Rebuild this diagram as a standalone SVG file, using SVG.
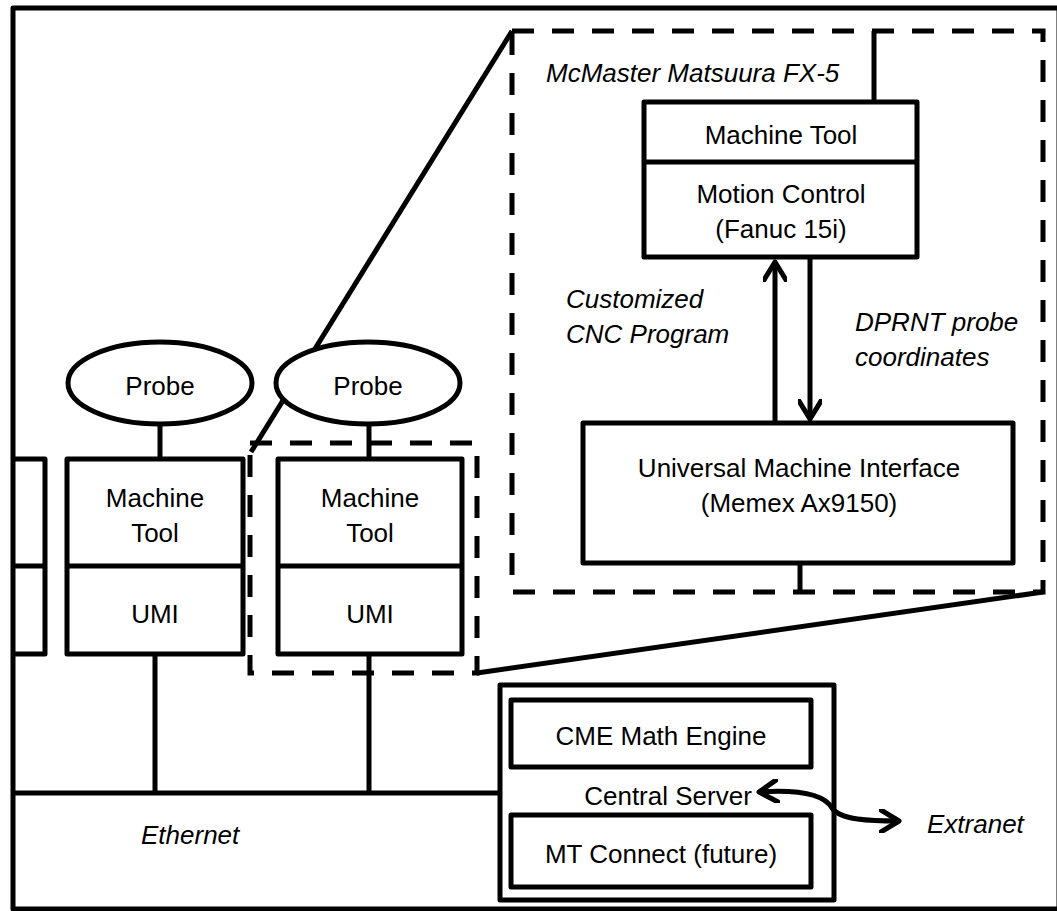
<svg xmlns="http://www.w3.org/2000/svg" width="1057" height="911" viewBox="0 0 1057 911">
<defs>
<style>
.ln{fill:none;stroke:#000;stroke-width:5;stroke-linejoin:round}
.bx{fill:#fff;stroke:#000;stroke-width:5;stroke-linejoin:round}
.ds{fill:none;stroke:#000;stroke-width:5;stroke-dasharray:22 18}
.t{font-family:"Liberation Sans",Arial,sans-serif;font-size:26px;fill:#000;text-anchor:middle}
.i{font-family:"Liberation Sans",Arial,sans-serif;font-size:26px;font-style:italic;fill:#000}
</style>
<marker id="ah" viewBox="0 0 24 24" refX="20" refY="12" markerWidth="24" markerHeight="24" markerUnits="userSpaceOnUse" orient="auto-start-reverse">
<path d="M2 1 L20 12 L2 23" fill="none" stroke="#000" stroke-width="5" stroke-linecap="round" stroke-linejoin="round"/>
</marker>
</defs>
<rect width="1057" height="911" fill="#fff"/>
<g id="frame">
<rect x="13" y="8" width="1046" height="901" class="ln"/>
</g>
<g id="connectors">
<path class="ln" d="M512 31 L251 452"/>
<path class="ln" d="M477 673 L1043 592"/>
<path class="ln" d="M874 31 V102"/>
<path class="ln" d="M800 563 V592"/>
<path class="ln" d="M160 424 V459"/>
<path class="ln" d="M369 424 V459"/>
<path class="ln" d="M155 654 V793"/>
<path class="ln" d="M369 654 V793"/>
<path class="ln" d="M13 793 H500"/>
<path class="ln" d="M775 423 V262" marker-end="url(#ah)"/>
<path class="ln" d="M810 257 V419" marker-end="url(#ah)"/>
</g>
<g id="zoom-box">
<path class="ds" d="M512 31 H1043 V592 H512 Z"/>
<text class="i" x="546" y="82">McMaster Matsuura FX-5</text>
<text class="i" x="566" y="308">Customized</text>
<text class="i" x="566" y="343">CNC Program</text>
<text class="i" x="855" y="331">DPRNT probe</text>
<text class="i" x="855" y="366">coordinates</text>
</g>
<g id="small-dashed">
<path class="ds" d="M250 443 H477 V673 H250 Z"/>
</g>
<g id="machine-tool-detail">
<rect class="bx" x="644" y="102" width="273" height="155"/>
<path class="ln" d="M644 162 H917"/>
<text class="t" x="781" y="144">Machine Tool</text>
<text class="t" x="781" y="203">Motion Control</text>
<text class="t" x="781" y="238">(Fanuc 15i)</text>
</g>
<g id="umi-detail">
<rect class="bx" x="583" y="423" width="430" height="140"/>
<text class="t" x="799" y="477">Universal Machine Interface</text>
<text class="t" x="799" y="512">(Memex Ax9150)</text>
</g>
<g id="partial-node">
<path class="ln" d="M13 459 H45 V654 H13 M13 566 H45"/>
</g>
<g id="node1">
<ellipse class="bx" cx="160" cy="383" rx="92" ry="41"/>
<text class="t" x="160" y="395">Probe</text>
<rect class="bx" x="67" y="459" width="176" height="195"/>
<path class="ln" d="M67 566 H243"/>
<text class="t" x="155" y="507">Machine</text>
<text class="t" x="155" y="542">Tool</text>
<text class="t" x="155" y="623">UMI</text>
</g>
<g id="node2">
<ellipse class="bx" cx="368" cy="383" rx="92" ry="41"/>
<text class="t" x="368" y="395">Probe</text>
<rect class="bx" x="278" y="459" width="184" height="195"/>
<path class="ln" d="M278 566 H462"/>
<text class="t" x="370" y="507">Machine</text>
<text class="t" x="370" y="542">Tool</text>
<text class="t" x="370" y="623">UMI</text>
</g>
<g id="ethernet">
<text class="i" x="141" y="844">Ethernet</text>
</g>
<g id="server">
<rect class="bx" x="500" y="685" width="334" height="215"/>
<rect class="bx" x="511" y="700" width="300" height="67"/>
<text class="t" x="661" y="745">CME Math Engine</text>
<text class="t" x="668" y="805">Central Server</text>
<rect class="bx" x="511" y="815" width="300" height="72"/>
<text class="t" x="661" y="863">MT Connect (future)</text>
</g>
<g id="extranet">
<text class="i" x="927" y="833">Extranet</text>
</g>
<g id="connectors-extranet">
<path class="ln" d="M759 792 C805 789 825 796 832 808 C840 820 870 821 899 821" marker-start="url(#ah)" marker-end="url(#ah)"/>
</g>
</svg>
